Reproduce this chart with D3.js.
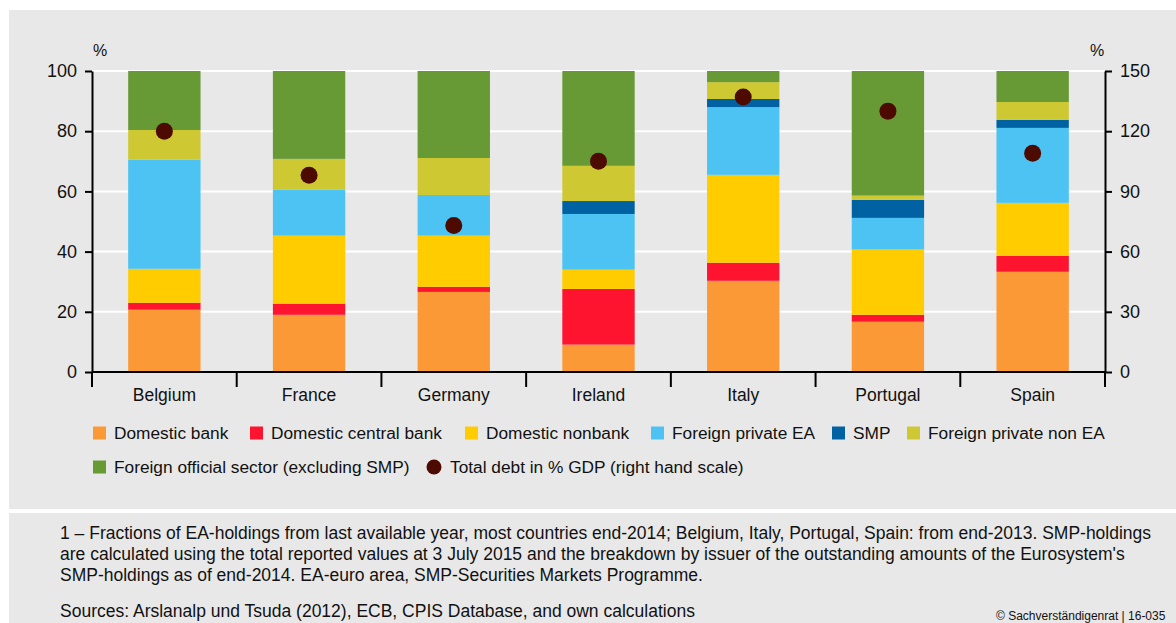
<!DOCTYPE html>
<html>
<head>
<meta charset="utf-8">
<script src="https://cdn.jsdelivr.net/npm/d3@7"></script>
<style>
  body { margin: 0; background: #fff; }
  svg { font-family: "Liberation Sans", Arial, sans-serif; }
</style>
</head>
<body>
<div id="chart"></div>
<script>
// Countries on the x axis
var countries = ["Belgium", "France", "Germany", "Ireland", "Italy", "Portugal", "Spain"];

// Holder shares, % of EA-holdings (stacked, bottom to top)
var domesticBank        = [20.7, 19.0, 26.6,  9.1, 30.3, 16.7, 33.3];
var domesticCentralBank = [ 2.3,  3.7,  1.7, 18.5,  6.0,  2.3,  5.3];
var domesticNonbank     = [11.3, 22.6, 17.0,  6.4, 29.2, 21.7, 17.6];
var foreignPrivateEA    = [36.3, 15.2, 13.5, 18.5, 22.5, 10.5, 24.9];
var smp                 = [ 0.0,  0.0,  0.0,  4.3,  2.7,  6.0,  2.7];
var foreignPrivateNonEA = [ 9.8, 10.3, 12.3, 11.7,  5.6,  1.4,  5.9];
var foreignOfficial     = [19.6, 29.2, 28.9, 31.5,  3.7, 41.4, 10.3];

// Total debt in % of GDP (right hand scale)
var totalDebt = [120, 98, 73, 105, 137, 130, 109];

var leftTicks  = [0, 20, 40, 60, 80, 100];
var rightTicks = [0, 30, 60, 90, 120, 150];

var seriesNames = ["Domestic bank", "Domestic central bank", "Domestic nonbank",
  "Foreign private EA", "SMP", "Foreign private non EA", "Foreign official sector (excluding SMP)"];
var seriesColors = ["#fc9937", "#ff1430", "#ffcc00", "#4cc3f2", "#0061a3", "#cec933", "#679935"];
var dotColor = "#4d0a00";

var W = 1176, H = 623;
var margin = { top: 71, left: 92, right: 71, bottom: 251 };
var width = W - margin.left - margin.right,
    height = H - margin.top - margin.bottom;

var svg = d3.select("#chart").append("svg")
  .attr("width", W).attr("height", H);

// background panels
svg.append("rect").attr("x", 9).attr("y", 10).attr("width", W - 9).attr("height", 499).attr("fill", "#e8e8e8");
svg.append("rect").attr("x", 9).attr("y", 513).attr("width", W - 9).attr("height", H - 513).attr("fill", "#e8e8e8");

var g = svg.append("g").attr("transform", "translate(" + margin.left + "," + margin.top + ")");

var x = d3.scaleBand().domain(countries).range([0, width]).paddingInner(0.5).paddingOuter(0.25);
var y = d3.scaleLinear().domain([0, 100]).range([height, 0]);
var y2 = d3.scaleLinear().domain([0, 150]).range([height, 0]);

// gridlines
g.selectAll(".grid").data(leftTicks.slice(1)).enter().append("line")
  .attr("x1", 0).attr("x2", width)
  .attr("y1", function (d) { return y(d); }).attr("y2", function (d) { return y(d); })
  .attr("stroke", "#fff").attr("stroke-width", 2);

// stacked bars
var rows = countries.map(function (c, i) {
  return { country: c, s0: domesticBank[i], s1: domesticCentralBank[i], s2: domesticNonbank[i],
    s3: foreignPrivateEA[i], s4: smp[i], s5: foreignPrivateNonEA[i], s6: foreignOfficial[i] };
});
var keys = ["s0", "s1", "s2", "s3", "s4", "s5", "s6"];
var stack = d3.stack().keys(keys)(rows);

g.selectAll(".layer").data(stack).enter().append("g")
  .attr("fill", function (d, i) { return seriesColors[i]; })
  .selectAll("rect").data(function (d) { return d; }).enter().append("rect")
  .attr("x", function (d) { return x(d.data.country); })
  .attr("width", x.bandwidth())
  .attr("y", function (d) { return y(d[1]); })
  .attr("height", function (d) { return y(d[0]) - y(d[1]); });

// debt dots
g.selectAll(".dot").data(totalDebt).enter().append("circle")
  .attr("cx", function (d, i) { return x(countries[i]) + x.bandwidth() / 2; })
  .attr("cy", function (d) { return y2(d); })
  .attr("r", 8.5).attr("fill", dotColor);

// axes
var yAxis = d3.axisLeft(y).tickValues(leftTicks).tickSize(7).tickSizeOuter(0);
var y2Axis = d3.axisRight(y2).tickValues(rightTicks).tickSize(7).tickSizeOuter(0);

var ga = g.append("g").call(yAxis);
var gb = g.append("g").attr("transform", "translate(" + width + ",0)").call(y2Axis);
[ga, gb].forEach(function (a) {
  a.select(".domain").attr("stroke", "#000").attr("stroke-width", 2);
  a.selectAll(".tick line").attr("stroke", "#000").attr("stroke-width", 2);
  a.selectAll(".tick text").attr("font-size", 18).attr("fill", "#111").attr("font-family", "Liberation Sans, Arial, sans-serif");
});
ga.selectAll(".tick text").attr("x", -15);
gb.selectAll(".tick text").attr("x", 15);

// x axis baseline with separators between countries
g.append("line").attr("x1", 0).attr("x2", width).attr("y1", height).attr("y2", height)
  .attr("stroke", "#000").attr("stroke-width", 2);
g.selectAll(".xsep").data(d3.range(countries.length + 1)).enter().append("line")
  .attr("x1", function (d) { return d * width / countries.length; })
  .attr("x2", function (d) { return d * width / countries.length; })
  .attr("y1", height).attr("y2", height + 15)
  .attr("stroke", "#000").attr("stroke-width", 2);
g.selectAll(".xlab").data(countries).enter().append("text")
  .attr("x", function (d) { return x(d) + x.bandwidth() / 2; })
  .attr("y", height + 29)
  .attr("text-anchor", "middle").attr("font-size", 17.5).attr("fill", "#111")
  .text(function (d) { return d; });

// unit labels
svg.append("text").attr("x", 100).attr("y", 56).attr("text-anchor", "middle").attr("font-size", 16).attr("fill", "#111").text("%");
svg.append("text").attr("x", 1097).attr("y", 56).attr("text-anchor", "middle").attr("font-size", 16).attr("fill", "#111").text("%");

// legend
var legendItems = [
  { name: seriesNames[0], color: seriesColors[0], x: 93, y: 433 },
  { name: seriesNames[1], color: seriesColors[1], x: 250, y: 433 },
  { name: seriesNames[2], color: seriesColors[2], x: 465, y: 433 },
  { name: seriesNames[3], color: seriesColors[3], x: 651, y: 433 },
  { name: seriesNames[4], color: seriesColors[4], x: 832, y: 433 },
  { name: seriesNames[5], color: seriesColors[5], x: 907, y: 433 },
  { name: seriesNames[6], color: seriesColors[6], x: 93, y: 467 }
];
var leg = svg.selectAll(".leg").data(legendItems).enter().append("g")
  .attr("transform", function (d) { return "translate(" + d.x + "," + d.y + ")"; });
leg.append("rect").attr("x", 0).attr("y", -6.5).attr("width", 13).attr("height", 13)
  .attr("fill", function (d) { return d.color; });
leg.append("text").attr("x", 21).attr("y", 6).attr("font-size", 17.3).attr("fill", "#111")
  .text(function (d) { return d.name; });
var dotLeg = svg.append("g").attr("transform", "translate(434,467)");
dotLeg.append("circle").attr("r", 7.5).attr("fill", dotColor);
dotLeg.append("text").attr("x", 16).attr("y", 6).attr("font-size", 17.3).attr("fill", "#111")
  .text("Total debt in % GDP (right hand scale)");

// footnote
var notes = [
  "1 \u2013 Fractions of EA-holdings from last available year, most countries end-2014; Belgium, Italy, Portugal, Spain: from end-2013. SMP-holdings",
  "are calculated using the total reported values at 3 July 2015 and the breakdown by issuer of the outstanding amounts of the Eurosystem's",
  "SMP-holdings as of end-2014. EA-euro area, SMP-Securities Markets Programme."
];
svg.selectAll(".note").data(notes).enter().append("text")
  .attr("x", 60).attr("y", function (d, i) { return 539 + i * 21; })
  .attr("font-size", 17.5).attr("fill", "#111")
  .text(function (d) { return d; });
svg.append("text").attr("x", 60).attr("y", 617).attr("font-size", 17.5).attr("fill", "#111")
  .text("Sources: Arslanalp und Tsuda (2012), ECB, CPIS Database, and own calculations");
svg.append("text").attr("x", 996).attr("y", 620).attr("font-size", 12).attr("fill", "#111")
  .text("\u00a9 Sachverst\u00e4ndigenrat | 16-035");
</script>
</body>
</html>
